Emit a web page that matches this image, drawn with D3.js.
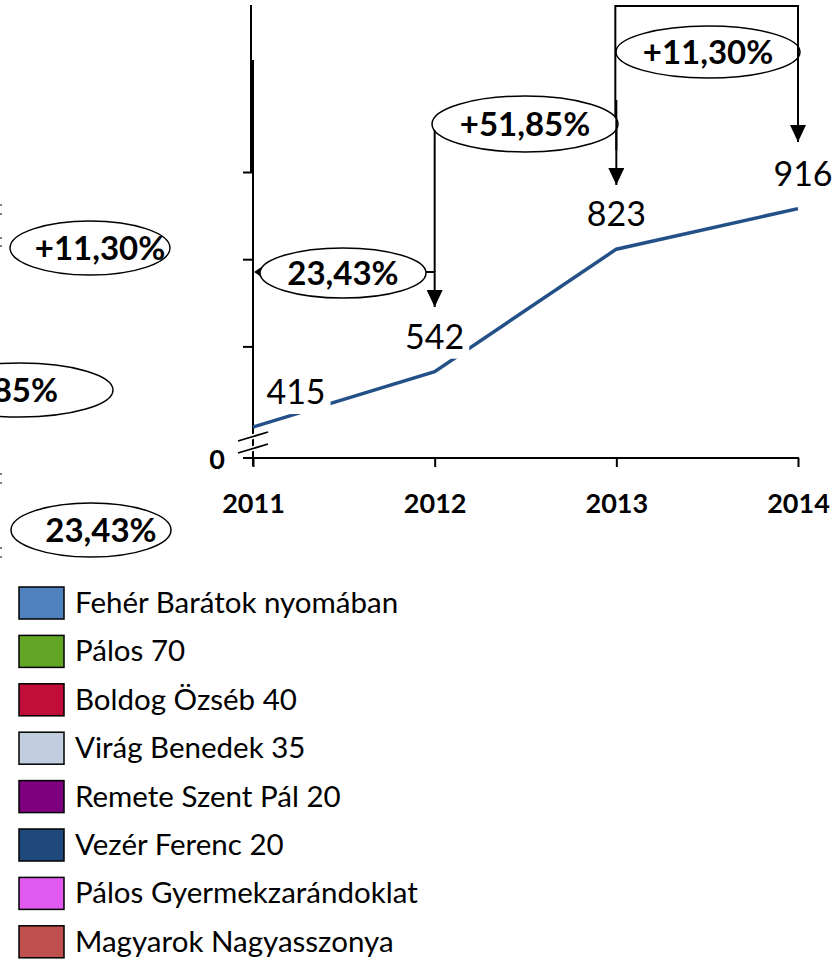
<!DOCTYPE html>
<meta charset="utf-8">
<style>
	body { margin: 0; background: #fff; }
	svg { display: block; font-family: Lato, "Open Sans", sans-serif; }
</style>
<body></body>
<script src="https://d3js.org/d3.v7.min.js"></script>
<script>

	// data
	var years = ["2011", "2012", "2013", "2014"];
	var visitors = [415, 542, 823, 916];
	var growth = ["23,43%", "+51,85%", "+11,30%"];
	var yTicks = [600, 800, 1000];
	var legendNames = ["Fehér Barátok nyomában", "Pálos 70", "Boldog Özséb 40", "Virág Benedek 35",
		"Remete Szent Pál 20", "Vezér Ferenc 20", "Pálos Gyermekzarándoklat", "Magyarok Nagyasszonya"];
	var legendColors = ["#4F81BD", "#63A625", "#C00D3A", "#C3CDE0", "#7F007F", "#1F497D", "#E05AF0", "#C0504D"];

	var width = 836, height = 966;

	var svg = d3.select("body").append("svg")
		.attr("width", width)
		.attr("height", height);

	// arrow head, drawn pointing along the path
	svg.append("defs").append("marker")
		.attr("id", "head")
		.attr("viewBox", "0 0 17 16")
		.attr("refX", 17).attr("refY", 8)
		.attr("markerWidth", 17).attr("markerHeight", 16)
		.attr("markerUnits", "userSpaceOnUse")
		.attr("orient", "auto")
		.append("path").attr("d", "M0,0L17,8L0,16Z").attr("fill", "#000");

	var xScale = d3.scalePoint()
		.domain(years)
		.range([253, 798]);

	// broken axis: bottom of the plot stands for "0"
	var yScale = d3.scaleLinear()
		.domain([344, 1000])
		.range([458, 172]);

	var x0 = xScale(years[0]);
	var yBase = yScale.range()[0];

	// ghost ellipses at left (part of an older copy of the slide)
	var ghost = [
		{cx: 90, cy: 248, t: "+11,30%"},
		{cx: 20, cy: 390, t: "+51,85%"},
		{cx: 91, cy: 530, t: "23,43%"}
	];
	ghost.forEach(function(g) {
		svg.append("ellipse")
			.attr("cx", g.cx).attr("cy", g.cy)
			.attr("rx", g.cx < 50 ? 93 : 80).attr("ry", 27)
			.attr("fill", "#fff").attr("stroke", "#000").attr("stroke-width", 1.5);
		svg.append("text")
			.attr("x", g.cx < 50 ? 58 : g.cx + 10)
			.attr("y", g.cy + 12)
			.attr("text-anchor", g.cx < 50 ? "end" : "middle")
			.attr("font-size", 33).attr("font-weight", 700)
			.text(g.t);
	});
	[205, 214, 238, 246, 474, 483, 548, 557].forEach(function(y) {
		svg.append("line").attr("x1", 0).attr("x2", 2).attr("y1", y).attr("y2", y)
			.attr("stroke", "#000").attr("stroke-width", 1.2);
	});

	// y axis
	svg.append("line")
		.attr("x1", x0 - 2).attr("x2", x0 - 2).attr("y1", 5).attr("y2", 172)
		.attr("stroke", "#000").attr("stroke-width", 2);
	svg.append("line")
		.attr("x1", x0).attr("x2", x0).attr("y1", 60).attr("y2", yBase + 8)
		.attr("stroke", "#000").attr("stroke-width", 2);

	var yAxis = svg.append("g")
		.attr("transform", "translate(" + x0 + ",0)")
		.call(d3.axisLeft(yScale).tickValues(yTicks).tickSize(10).tickFormat(""));
	yAxis.select(".domain").remove();
	yAxis.selectAll("line").attr("stroke", "#000").attr("stroke-width", 2);

	// x axis
	svg.append("line")
		.attr("x1", x0 - 10).attr("x2", xScale(years[3]) + 1)
		.attr("y1", yBase).attr("y2", yBase)
		.attr("stroke", "#000").attr("stroke-width", 2);
	var xAxis = svg.append("g")
		.attr("transform", "translate(0," + yBase + ")")
		.call(d3.axisBottom(xScale).tickSize(9).tickPadding(27));
	xAxis.select(".domain").remove();
	xAxis.selectAll("line").attr("stroke", "#000").attr("stroke-width", 2);
	xAxis.selectAll("text")
		.attr("font-family", "Lato, sans-serif")
		.attr("font-size", 27).attr("font-weight", 700).attr("fill", "#000");

	svg.append("text")
		.attr("x", 217).attr("y", yBase + 11)
		.attr("text-anchor", "middle")
		.attr("font-size", 27).attr("font-weight", 700)
		.text("0");

	// line
	var line = d3.line()
		.x(function(d, i) { return xScale(years[i]); })
		.y(function(d) { return yScale(d); });

	svg.append("path")
		.datum(visitors)
		.attr("d", line)
		.attr("fill", "none")
		.attr("stroke", "#245088")
		.attr("stroke-width", 3.5);

	// axis break marks
	[436, 448].forEach(function(y) {
		svg.append("line")
			.attr("x1", x0 - 15).attr("y1", y + 5)
			.attr("x2", x0 + 15).attr("y2", y - 4)
			.attr("stroke", "#fff").attr("stroke-width", 5);
		svg.append("line")
			.attr("x1", x0 - 15).attr("y1", y + 5)
			.attr("x2", x0 + 15).attr("y2", y - 4)
			.attr("stroke", "#000").attr("stroke-width", 1.8);
	});

	// value labels with white boxes
	var labels = svg.append("g").selectAll("g")
		.data(visitors)
		.enter().append("g")
		.attr("transform", function(d, i) {
			var dx = i === 0 ? 43 : (i === visitors.length - 1 ? 5 : 0);
			return "translate(" + (xScale(years[i]) + dx) + "," + (yScale(d) - 23) + ")";
		});
	labels.append("text")
		.attr("text-anchor", "middle")
		.attr("font-size", 34)
		.text(function(d) { return d; });
	labels.each(function() {
		var g = d3.select(this);
		var b = g.select("text").node().getBBox();
		g.insert("rect", "text")
			.attr("x", b.x - 5).attr("y", b.y + 3)
			.attr("width", b.width + 10).attr("height", b.height)
			.attr("fill", "#fff");
	});

	// growth annotations
	var ann = svg.append("g");
	var stroke = function(sel) { return sel.attr("fill", "none").attr("stroke", "#000").attr("stroke-width", 2); };
	var x1 = xScale(years[1]), x2 = xScale(years[2]), x3 = xScale(years[3]);

	// 2011 -> 2012
	stroke(ann.append("path").attr("d", "M" + (x0 + 8) + ",272L" + x1 + ",272L" + x1 + ",307")
		.attr("marker-end", "url(#head)"));
	ann.append("path").attr("d", "M" + (x0 + 1) + ",272l9,-6l0,12Z").attr("fill", "#000");
	// 2012 -> 2013
	stroke(ann.append("path").attr("d", "M" + x1 + ",272L" + x1 + ",130"));
	stroke(ann.append("path").attr("d", "M" + x2 + ",120L" + x2 + ",185").attr("marker-end", "url(#head)"));
	// 2013 -> 2014
	stroke(ann.append("path").attr("d", "M" + (x2 - 1) + ",120L" + (x2 - 1) + ",6L" + x3 + ",6L" + x3 + ",142")
		.attr("marker-end", "url(#head)"));

	var bubbles = [
		{cx: 343, cy: 273, rx: 83, ry: 25},
		{cx: 525, cy: 124, rx: 93, ry: 28},
		{cx: 708, cy: 52, rx: 92, ry: 26}
	];
	bubbles.forEach(function(b, i) {
		ann.append("ellipse")
			.attr("cx", b.cx).attr("cy", b.cy).attr("rx", b.rx).attr("ry", b.ry)
			.attr("fill", "#fff").attr("stroke", "#000").attr("stroke-width", 1.5);
		ann.append("text")
			.attr("x", b.cx).attr("y", b.cy + 12)
			.attr("text-anchor", "middle")
			.attr("font-size", 33).attr("font-weight", 700)
			.text(growth[i]);
	});
	// lines that run over the ellipses' edges
	stroke(ann.append("path").attr("d", "M" + x2 + ",100L" + x2 + ",150"));
	stroke(ann.append("path").attr("d", "M" + x3 + ",30L" + x3 + ",74"));
	stroke(ann.append("path").attr("d", "M" + 426 + ",272L" + x1 + ",272"));

	// legend
	var legend = svg.append("g")
		.attr("transform", "translate(19,587)")
		.selectAll("g")
		.data(legendNames)
		.enter().append("g")
		.attr("transform", function(d, i) { return "translate(0," + (i * 48.4) + ")"; });
	legend.append("rect")
		.attr("width", 45).attr("height", 32)
		.attr("fill", function(d, i) { return legendColors[i]; })
		.attr("stroke", "#000").attr("stroke-width", 1.5);
	legend.append("text")
		.attr("x", 56).attr("y", 26)
		.attr("font-size", 29.5)
		.text(function(d) { return d; });

</script>
